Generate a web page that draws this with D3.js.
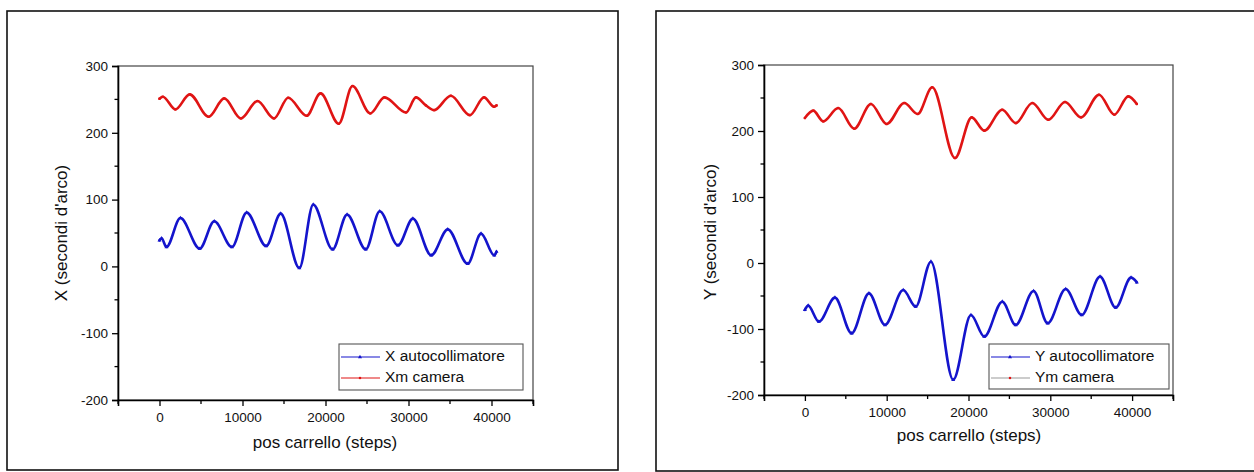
<!DOCTYPE html>
<html>
<head>
<meta charset="utf-8">
<script src="https://cdn.jsdelivr.net/npm/d3@7"></script>
<style>
  html, body { margin: 0; padding: 0; background: #fff; }
  svg { display: block; font-family: "Liberation Sans", Arial, sans-serif; }
</style>
</head>
<body>
<svg id="chart" width="1254" height="472"></svg>
<script>
// X panel: autocollimator reading and camera reading vs carriage position
const xAutoSteps = [0, 250, 840, 2520, 4840, 6600, 8730, 10500, 12850, 14600, 16850, 18520, 20850, 22600, 24850, 26530, 28730, 30530, 32740, 34730, 37130, 38740, 40340, 40600];
const xAutoVals  = [39, 42, 29, 72.5, 26.5, 67.5, 29, 80.5, 30.5, 79, -2.5, 92.5, 25.5, 77.5, 25.5, 82.5, 31.5, 71.5, 16.5, 55.5, 4, 49, 16.5, 22];

const xCamSteps = [0, 400, 1920, 3640, 5920, 7800, 9800, 11800, 13800, 15500, 17730, 19400, 21600, 23250, 25400, 27100, 29700, 30900, 32100, 33100, 35100, 37400, 39100, 40300, 40600];
const xCamVals  = [251, 254, 235, 257.5, 224, 251.5, 221.5, 247.5, 221.5, 252.5, 225.5, 259, 213.5, 270, 229, 253, 230.5, 253, 241, 234, 255.5, 226.5, 253, 239, 241];

// Y panel
const yAutoSteps = [0, 400, 1710, 3670, 5710, 7830, 9790, 12020, 13540, 15410, 18130, 20300, 21930, 24130, 25770, 27950, 29680, 31880, 33840, 36080, 37990, 39870, 40570];
const yAutoVals  = [-71, -64.6, -88.9, -52.5, -106.6, -46, -94, -41, -66.2, 2, -177, -78.8, -111.6, -58.6, -94, -42.4, -91.4, -39.4, -78.8, -20.7, -67.7, -22.2, -29.2];

const yCamSteps = [0, 1020, 2240, 4070, 6030, 8070, 9990, 12150, 13780, 15570, 18350, 20390, 21930, 24130, 25770, 27800, 29760, 31800, 33760, 35960, 37830, 39540, 40570];
const yCamVals  = [219.7, 230.8, 214.6, 234.8, 203.5, 241, 210.6, 242.4, 225.8, 266.2, 159, 220.7, 200.5, 232.3, 212, 242.4, 217, 244, 220.7, 255, 224.7, 252.5, 241];

// Axis ticks
const xMajorTicks = [0, 10000, 20000, 30000, 40000];
const xMinorTicks = [-5000, 5000, 15000, 25000, 35000, 45000];
const yMajorTicks = [-200, -100, 0, 100, 200, 300];
const yMinorTicks = [-150, -50, 50, 150, 250];

const xLabel = "pos carrello (steps)";

const BLUE = "#1414cc";
const RED = "#e01414";

const svg = d3.select("#chart");

function zip(xs, ys) { return xs.map((x, i) => ({ x: x, y: ys[i] })); }
const plainNum = d => String(d);  // hyphen-minus for negatives

function drawPanel(cfg) {
  const g = svg.append("g");

  // outer frame
  g.append("rect")
    .attr("x", cfg.frame[0]).attr("y", cfg.frame[1])
    .attr("width", cfg.frame[2]).attr("height", cfg.frame[3])
    .attr("fill", "none").attr("stroke", "#111").attr("stroke-width", 1.6);

  const [L, T, R, B] = cfg.plot;
  const x = d3.scaleLinear().domain([-5000, 45000]).range([L, R]);
  const y = d3.scaleLinear().domain([-200, 300]).range([B, T]);

  // plot box (top/right)
  g.append("rect")
    .attr("x", L).attr("y", T).attr("width", R - L).attr("height", B - T)
    .attr("fill", "none").attr("stroke", "#444").attr("stroke-width", 1.2);

  // left axis
  const yAxis = g.append("g").attr("transform", `translate(${L},0)`)
    .call(d3.axisLeft(y).tickValues(yMajorTicks).tickSize(6).tickPadding(4).tickFormat(plainNum));
  yAxis.append("g").selectAll("line").data(yMinorTicks).join("line")
    .attr("x1", 0).attr("x2", -3.5).attr("y1", d => y(d)).attr("y2", d => y(d))
    .attr("stroke", "#000").attr("stroke-width", 1.3);

  // bottom axis
  const xAxis = g.append("g").attr("transform", `translate(0,${B})`)
    .call(d3.axisBottom(x).tickValues(xMajorTicks).tickSize(6).tickPadding(6).tickFormat(plainNum));
  xAxis.append("g").selectAll("line").data(xMinorTicks).join("line")
    .attr("y1", 0).attr("y2", 4).attr("x1", d => x(d)).attr("x2", d => x(d))
    .attr("stroke", "#000").attr("stroke-width", 1.3);

  [yAxis, xAxis].forEach(a => {
    a.attr("font-size", 13.5).attr("font-family", "'Liberation Sans', Arial, sans-serif");
    a.select(".domain").attr("stroke", "#000").attr("stroke-width", 1.6);
    a.selectAll(".tick line").attr("stroke", "#000").attr("stroke-width", 1.3);
    a.selectAll(".tick text").attr("fill", "#111");
  });

  // axis titles
  g.append("text")
    .attr("transform", `translate(${cfg.yTitlePos[0]},${cfg.yTitlePos[1]}) rotate(-90)`)
    .attr("text-anchor", "middle").attr("dominant-baseline", "middle")
    .attr("font-size", 17).attr("fill", "#111").text(cfg.yTitle);
  g.append("text")
    .attr("x", cfg.xTitlePos[0]).attr("y", cfg.xTitlePos[1])
    .attr("text-anchor", "middle").attr("dominant-baseline", "middle")
    .attr("font-size", 17).attr("fill", "#111").text(xLabel);

  const line = d3.line().x(d => x(d.x)).y(d => y(d.y)).curve(d3.curveMonotoneX);
  const tri = d3.symbol().type(d3.symbolTriangle).size(7);
  const sq = d3.symbol().type(d3.symbolSquare).size(5);

  cfg.series.forEach(s => {
    const data = zip(s.steps, s.vals);
    g.append("path").datum(data)
      .attr("d", line).attr("fill", "none")
      .attr("stroke", s.color).attr("stroke-width", 2.6)
      .attr("stroke-linejoin", "round").attr("stroke-linecap", "round");
    g.append("g").selectAll("path").data(data).join("path")
      .attr("d", s.marker === "tri" ? tri : sq)
      .attr("transform", d => `translate(${x(d.x)},${y(d.y)})`)
      .attr("fill", s.color);
  });

  // legend
  const [lx, ly, lw, lh] = cfg.legend;
  const lg = g.append("g");
  lg.append("rect").attr("x", lx).attr("y", ly).attr("width", lw).attr("height", lh)
    .attr("fill", "#fff").attr("stroke", "#555").attr("stroke-width", 1.1);
  cfg.series.forEach((s, i) => {
    const cy = ly + 13 + i * 21;
    lg.append("line").attr("x1", lx + 2).attr("x2", lx + 41).attr("y1", cy).attr("y2", cy)
      .attr("stroke", s.legendLine || s.color).attr("stroke-width", 1.2);
    lg.append("path").attr("d", (s.marker === "tri" ? tri : sq)())
      .attr("transform", `translate(${lx + 21},${cy})`).attr("fill", s.color);
    lg.append("text").attr("x", lx + 46).attr("y", cy).attr("dominant-baseline", "middle")
      .attr("font-size", 15.5).attr("fill", "#111").text(s.name);
  });
}

drawPanel({
  frame: [7, 11, 611, 459],
  plot: [118, 66, 533, 400],
  yTitle: "X (secondi d'arco)",
  yTitlePos: [63, 233],
  xTitlePos: [325, 444],
  legend: [339, 344, 184, 46],
  series: [
    { name: "X autocollimatore", steps: xAutoSteps, vals: xAutoVals, color: BLUE, marker: "tri" },
    { name: "Xm camera", steps: xCamSteps, vals: xCamVals, color: RED, marker: "sq" }
  ]
});

drawPanel({
  frame: [656, 11, 620, 460],
  plot: [764, 65, 1173, 395],
  yTitle: "Y (secondi d'arco)",
  yTitlePos: [712, 232],
  xTitlePos: [969, 437],
  legend: [989, 344, 180, 45],
  series: [
    { name: "Y autocollimatore", steps: yAutoSteps, vals: yAutoVals, color: BLUE, marker: "tri" },
    { name: "Ym camera", steps: yCamSteps, vals: yCamVals, color: RED, marker: "sq", legendLine: "#999" }
  ]
});
</script>
</body>
</html>
